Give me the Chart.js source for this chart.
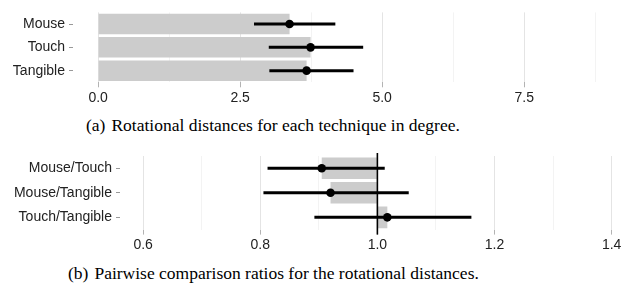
<!DOCTYPE html>
<html>
<head>
<meta charset="utf-8">
<script src="https://cdn.jsdelivr.net/npm/chart.js@4/dist/chart.umd.min.js"></script>
<style>
  body { margin: 0; background: #fff; }
  #page { position: relative; width: 637px; height: 287px; overflow: hidden; }
  canvas { position: absolute; left: 0; }
  .caption {
    position: absolute;
    font-family: "Liberation Serif", "Times New Roman", serif;
    font-size: 17.5px;
    line-height: 20px;
    color: #000;
    white-space: nowrap;
  }
  .caption span { margin-left: 6px; }
</style>
</head>
<body>
<div id="page">
  <canvas id="distChart" width="637" height="106" style="top:0"></canvas>
  <div class="caption" style="left:86px; top:115px">(a)<span>Rotational distances for each technique in degree.</span></div>
  <canvas id="ratioChart" width="637" height="116" style="top:140px"></canvas>
  <div class="caption" style="left:68px; top:263px">(b)<span>Pairwise comparison ratios for the rotational distances.</span></div>
</div>
<script>
// (a) rotational distance per technique, mean with CI
const techniques = ['Mouse', 'Touch', 'Tangible'];
const distMean = [3.37, 3.74, 3.67];
const distLow = [2.75, 3.01, 3.02];
const distHigh = [4.17, 4.66, 4.49];
const distTicks = [0, 1.25, 2.5, 3.75, 5, 6.25, 7.5, 8.75];
const distMajor = [0, 2.5, 5, 7.5];

// (b) pairwise ratios, mean with CI
const pairs = ['Mouse/Touch', 'Mouse/Tangible', 'Touch/Tangible'];
const ratioMean = [0.905, 0.92, 1.017];
const ratioLow = [0.813, 0.806, 0.893];
const ratioHigh = [1.012, 1.053, 1.16];
const ratioTicks = [0.6, 0.7, 0.8, 0.9, 1.0, 1.1, 1.2, 1.3, 1.4];
const ratioMajor = [0.6, 0.8, 1.0, 1.2, 1.4];
const ratioRef = 1;

const tickFont = { family: "'Liberation Sans', Arial, sans-serif", size: 14 };
const isIn = (list, v) => list.some(m => Math.abs(m - v) < 1e-9);

// vertical reference line drawn on top of the bars
const refLine = {
  id: 'refLine',
  afterDatasetsDraw(chart, args, opts) {
    const { ctx, chartArea, scales } = chart;
    const px = scales.x.getPixelForValue(opts.value);
    ctx.save();
    ctx.strokeStyle = '#000';
    ctx.lineWidth = 1.6;
    ctx.beginPath();
    ctx.moveTo(px, chartArea.top - 3);
    ctx.lineTo(px, chartArea.bottom + 5);
    ctx.stroke();
    ctx.restore();
  }
};

function buildChart(id, labels, mean, low, high, cfg) {
  return new Chart(document.getElementById(id), {
    type: 'bar',
    data: {
      labels: labels,
      datasets: [
        {
          type: 'line',
          data: mean,
          showLine: false,
          pointRadius: 4.3,
          pointBackgroundColor: '#000',
          pointBorderWidth: 0,
          order: 1
        },
        {
          data: low.map((v, i) => [v, high[i]]),
          backgroundColor: '#000',
          barThickness: 2.3,
          grouped: false,
          order: 2
        },
        {
          data: mean,
          base: cfg.base,
          backgroundColor: '#cccccc',
          barPercentage: 0.88,
          categoryPercentage: 1,
          grouped: false,
          order: 3
        }
      ]
    },
    options: {
      indexAxis: 'y',
      responsive: false,
      animation: false,
      layout: { padding: { top: cfg.top, left: 0, right: 0, bottom: 0 } },
      plugins: {
        legend: { display: false },
        tooltip: { enabled: false },
        refLine: { value: cfg.ref }
      },
      scales: {
        x: {
          type: 'linear',
          min: cfg.min,
          max: cfg.max,
          afterBuildTicks: s => { s.ticks = cfg.ticks.map(v => ({ value: v })); },
          afterFit: s => { s.height = cfg.xHeight; },
          border: { display: false },
          grid: {
            color: c => isIn(cfg.major, c.tick.value) ? '#e4e4e4' : '#f3f3f3',
            tickColor: c => isIn(cfg.major, c.tick.value) ? '#b3b3b3' : 'rgba(0,0,0,0)',
            tickLength: 5,
            lineWidth: 1
          },
          ticks: {
            callback: v => isIn(cfg.major, v) ? v.toFixed(1) : '',
            color: '#222',
            font: tickFont,
            padding: 2,
            maxRotation: 0,
            autoSkip: false
          }
        },
        y: {
          type: 'category',
          afterFit: s => { s.width = cfg.left; },
          border: { display: false },
          grid: { drawOnChartArea: false, offset: false, tickLength: 4, tickColor: '#999' },
          ticks: { color: '#222', font: tickFont, padding: 4 }
        }
      }
    },
    plugins: cfg.ref != null ? [refLine] : []
  });
}

buildChart('distChart', techniques, distMean, distLow, distHigh, {
  base: 0, top: 8.4, left: 73, xHeight: 23.7,
  min: -0.442, max: 9.41, ticks: distTicks, major: distMajor
});

buildChart('ratioChart', pairs, ratioMean, ratioLow, ratioHigh, {
  base: ratioRef, ref: ratioRef, top: 16, left: 120, xHeight: 26.4,
  min: 0.5605, max: 1.436, ticks: ratioTicks, major: ratioMajor
});
</script>
</body>
</html>
